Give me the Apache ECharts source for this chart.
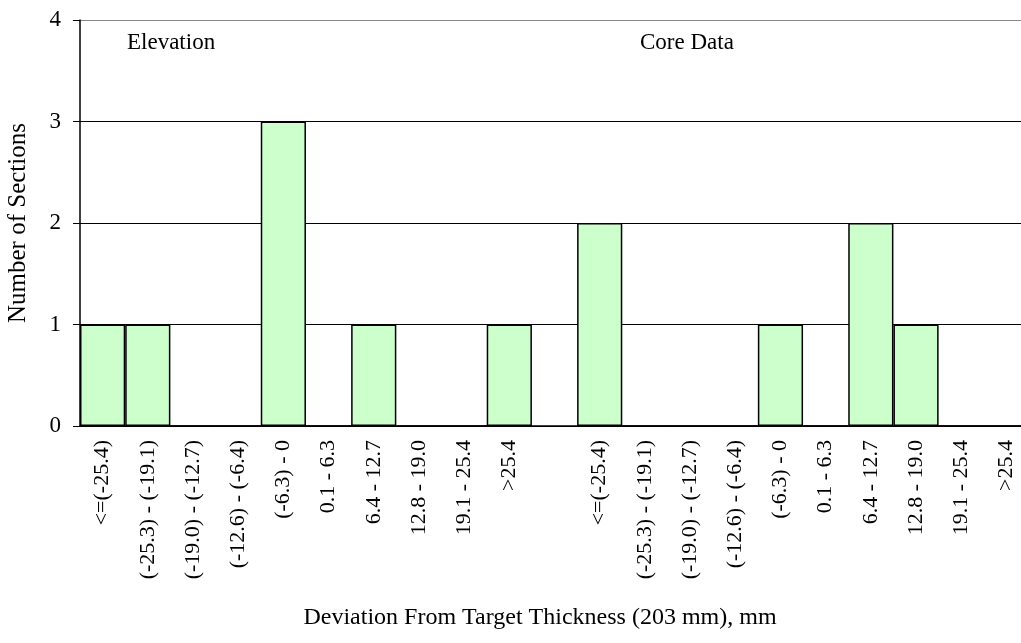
<!DOCTYPE html>
<html>
<head>
<meta charset="utf-8">
<script src="https://cdn.jsdelivr.net/npm/echarts@6/dist/echarts.min.js"></script>
<style>
  html, body { margin: 0; padding: 0; background: #fff; overflow: hidden; }
  /* plot runs past the right edge of the window, as in the original */
  #chart { width: 1029px; height: 643px; }
</style>
</head>
<body>
<div id="chart"></div>
<script>
// bins (same for both groups)
var bins = ['<=(-25.4)', '(-25.3) - (-19.1)', '(-19.0) - (-12.7)', '(-12.6) - (-6.4)', '(-6.3) - 0',
            '0.1 - 6.3', '6.4 - 12.7', '12.8 - 19.0', '19.1 - 25.4', '>25.4'];
var elevationCounts = [1, 1, 0, 0, 3, 0, 1, 0, 0, 1];
var coreCounts = [2, 0, 0, 0, 1, 0, 2, 1, 0, 0];
var groupNames = ['Elevation', 'Core Data'];
var yTicks = [0, 1, 2, 3, 4];

// one empty slot between the two groups
var categories = bins.concat(['']).concat(bins);
var values = elevationCounts.concat([null]).concat(coreCounts);

var serif = "'Liberation Serif', 'Times New Roman', serif";
var myChart = echarts.init(document.getElementById('chart'));

myChart.setOption({
    animation: false,
    grid: { left: 80, top: 20, right: 0, height: 406, containLabel: false },
    xAxis: {
        type: 'category',
        data: categories,
        axisLine: { lineStyle: { color: '#000', width: 1.5 } },
        axisTick: { show: false },
        axisLabel: {
            interval: 0, rotate: 90, margin: 14,
            fontFamily: serif, fontSize: 22, color: '#000'
        }
    },
    yAxis: {
        type: 'value',
        min: yTicks[0], max: yTicks[yTicks.length - 1], interval: 1,
        axisLine: { show: true, lineStyle: { color: '#000', width: 1.5 } },
        axisTick: { show: true, length: 7, lineStyle: { color: '#000' } },
        axisLabel: { fontFamily: serif, fontSize: 23, color: '#000', margin: 19 },
        splitLine: { show: true, lineStyle: { color: ['#000', '#000', '#000', '#000', '#888'], width: 1.2 } }
    },
    series: [{
        type: 'bar',
        data: values,
        barCategoryGap: 0,
        itemStyle: { color: '#ccffcc', borderColor: '#000', borderWidth: 1.5 }
    }],
    graphic: [
        { type: 'text', left: 127, top: 31, style: { text: groupNames[0], fontFamily: serif, fontSize: 23, fill: '#000' } },
        { type: 'text', left: 640, top: 31, style: { text: groupNames[1], fontFamily: serif, fontSize: 23, fill: '#000' } },
        { type: 'text', x: 18, y: 223, rotation: Math.PI / 2,
          style: { text: 'Number of Sections', fontFamily: serif, fontSize: 25, fill: '#000', align: 'center', verticalAlign: 'middle' } },
        { type: 'text', x: 540, y: 618,
          style: { text: 'Deviation From Target Thickness (203 mm), mm', fontFamily: serif, fontSize: 24, fill: '#000', align: 'center', verticalAlign: 'middle' } }
    ]
});
</script>
</body>
</html>
